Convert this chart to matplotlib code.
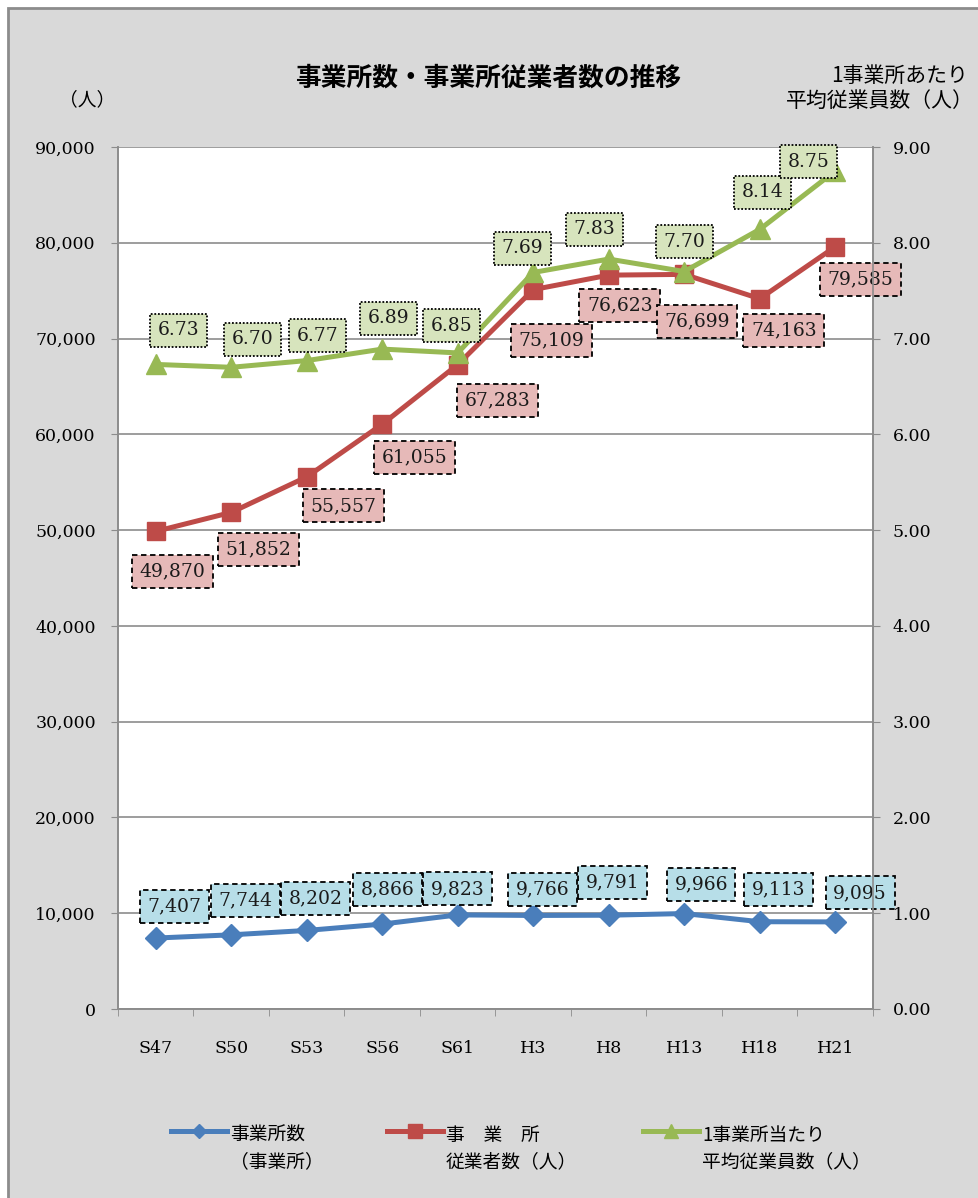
import numpy as np
import matplotlib.pyplot as plt
from matplotlib.patches import Rectangle
from matplotlib.lines import Line2D

# dados
categorias = ['S47', 'S50', 'S53', 'S56', 'S61', 'H3', 'H8', 'H13', 'H18', 'H21']
jigyosho = [7407, 7744, 8202, 8866, 9823, 9766, 9791, 9966, 9113, 9095]
jugyosha = [49870, 51852, 55557, 61055, 67283, 75109, 76623, 76699, 74163, 79585]
heikin = [6.73, 6.70, 6.77, 6.89, 6.85, 7.69, 7.83, 7.70, 8.14, 8.75]

titulo = '事業所数・事業所従業者数の推移'
nomes = ['事業所数\n（事業所）', '事　業　所\n従業者数（人）', '1事業所当たり\n平均従業員数（人）']

# deslocamento dos rótulos (pixels, x para direita, y para baixo)
off_azul = [(19, -32), (14, -34), (9, -32), (5, -35), (0, -26), (9, -26), (4, -33), (17, -29), (19, -32), (25, -29)]
off_verm = [(17, 40), (27, 37), (37, 29), (32, 33), (40, 36), (18, 51), (11, 30), (13, 47), (24, 32), (25, 33)]
off_verd = [(23, -34), (21, -28), (11, -25), (6, -31), (-6, -27), (-11, -24), (-14, -30), (0, -30), (3, -37), (-27, -9)]

AZUL = '#4a7ebb'
VERM = '#be4b48'
VERD = '#98b954'
JP = ['Noto Sans CJK JP', 'DejaVu Sans']
NUM = 'DejaVu Serif'

W, H = 979, 1198
fig = plt.figure(figsize=(W / 100, H / 100), dpi=100, facecolor='white')
fig.patches.append(Rectangle((8 / W, -0.1), 1.2, 1.1 - 8 / H, transform=fig.transFigure,
                             facecolor='#d9d9d9', edgecolor='#8c8c8c', linewidth=2, zorder=-10))

ax = fig.add_axes([118 / W, 1 - 1009 / H, (873 - 118) / W, (1009 - 147) / H])
ax.set_facecolor('white')
ax2 = ax.twinx()

x = np.arange(len(categorias))
ax.set_xlim(-0.5, len(categorias) - 0.5)
ax.set_ylim(0, 90000)
ax2.set_ylim(0, 9)
ax.set_yticks(np.arange(0, 90001, 10000))
ax2.set_yticks(np.arange(0, 9.01, 1))
ax.set_yticklabels(['{:,}'.format(v) for v in range(0, 90001, 10000)], fontname=NUM, fontsize=12.5)
ax2.set_yticklabels(['{:.2f}'.format(v) for v in np.arange(0, 9.01, 1)], fontname=NUM, fontsize=12.5)
ax.set_xticks(x)
ax.set_xticklabels(categorias, fontname=NUM, fontsize=12.5)
ax.set_xticks(np.arange(-0.5, len(categorias), 1), minor=True)
ax.tick_params(axis='x', which='major', length=0, pad=22)
ax.tick_params(axis='x', which='minor', length=5, color='#8c8c8c')
ax.tick_params(axis='y', length=5, color='#8c8c8c', pad=11)
ax2.tick_params(axis='y', length=5, color='#8c8c8c', pad=9)
ax.grid(axis='y', color='#8c8c8c', linewidth=1.2)
ax.set_axisbelow(True)
for a in (ax, ax2):
    for s in a.spines.values():
        s.set_color('#8c8c8c')
        s.set_linewidth(1.2)
    a.spines['top'].set_visible(False)

ax.plot(x, jigyosho, color=AZUL, lw=3.6, marker='D', ms=11, zorder=3)
ax.plot(x, jugyosha, color=VERM, lw=3.6, marker='s', ms=13, zorder=3)
ax2.plot(x, heikin, color=VERD, lw=3.6, marker='^', ms=14, zorder=3)

def rotulos(a, valores, offs, fmt, cor, estilo):
    for i, v in enumerate(valores):
        dx, dy = offs[i]
        a.annotate(fmt.format(v), xy=(x[i], v), xytext=(dx * 0.72, -dy * 0.72),
                   textcoords='offset points', ha='center', va='center',
                   fontname=NUM, fontsize=13.5, color='#1a1a1a', zorder=5,
                   bbox=dict(boxstyle='square,pad=0.4', facecolor=cor,
                             edgecolor='black', linestyle=estilo, linewidth=1.3))

rotulos(ax, jigyosho, off_azul, '{:,}', '#b7dee8', (0, (3, 2)))
rotulos(ax, jugyosha, off_verm, '{:,}', '#e6b9b8', (0, (3, 2)))
rotulos(ax2, heikin, off_verd, '{:.2f}', '#d7e4bd', (0, (1, 1)))

fig.text(488 / W, 1 - 78 / H, titulo, ha='center', va='center', family=JP,
         fontsize=18.5, fontweight='bold')
fig.text(87 / W, 1 - 100 / H, '（人）', ha='center', va='center', family=JP, fontsize=13.5)
fig.text(968 / W, 1 - 76 / H, '1事業所あたり', ha='right', va='center', family=JP, fontsize=15)
fig.text(974 / W, 1 - 101 / H, '平均従業員数（人）', ha='right', va='center', family=JP, fontsize=15)

# legenda
for cor, mk, tam, x0, nome in [(AZUL, 'D', 7, 171, nomes[0]), (VERM, 's', 10, 387, nomes[1]),
                               (VERD, '^', 10, 643, nomes[2])]:
    fig.add_artist(Line2D([x0 / W, (x0 + 56) / W], [1 - 1131 / H] * 2, color=cor, lw=3.6,
                          transform=fig.transFigure))
    fig.add_artist(Line2D([(x0 + 28) / W], [1 - 1131 / H], color=cor, marker=mk, ms=tam,
                          transform=fig.transFigure))
    l1, l2 = nome.split('\n')
    fig.text((x0 + 59) / W, 1 - 1135 / H, l1, ha='left', va='center', family=JP, fontsize=13.5)
    fig.text((x0 + 59) / W, 1 - 1162 / H, l2, ha='left', va='center', family=JP, fontsize=13.5)

fig.savefig('out.png', dpi=100, facecolor=fig.get_facecolor())
